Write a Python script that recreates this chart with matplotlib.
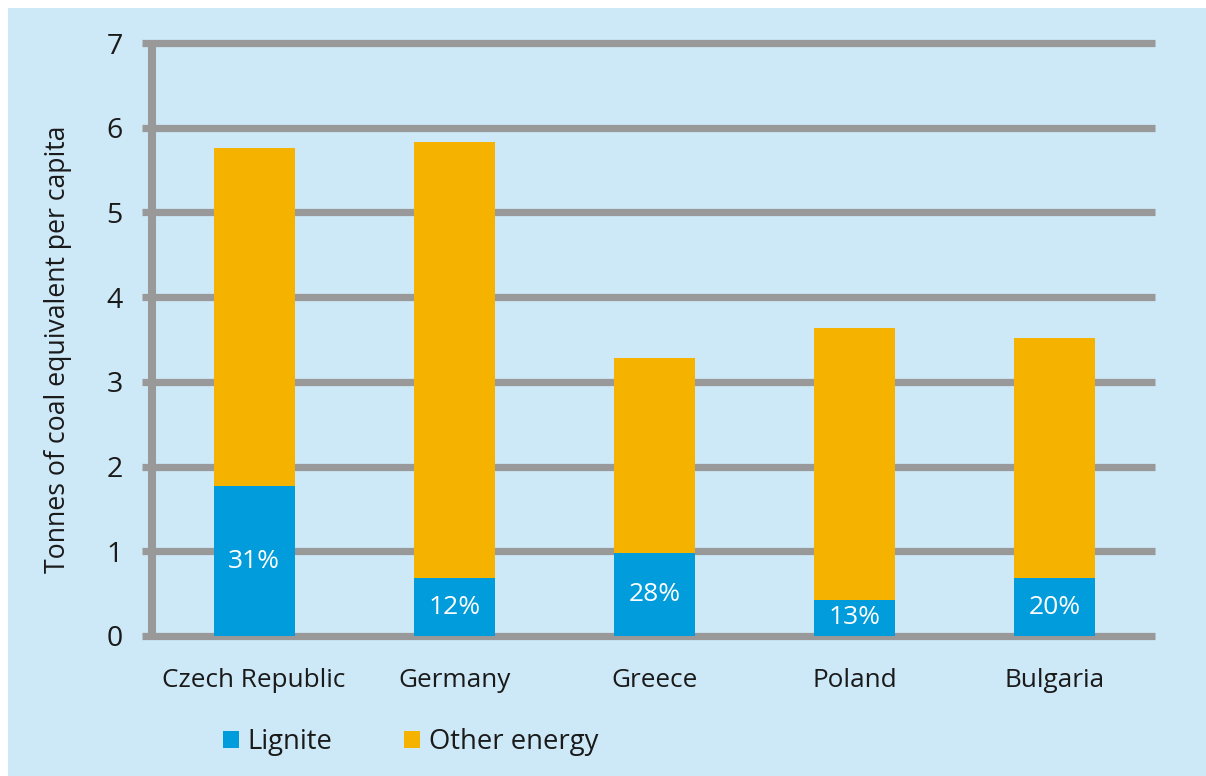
import matplotlib
matplotlib.use("Agg")
import matplotlib.pyplot as plt
from matplotlib.patches import Rectangle
import matplotlib.transforms as mtransforms

countries = ["Czech Republic", "Germany", "Greece", "Poland", "Bulgaria"]
lignite = [1.77, 0.68, 0.98, 0.43, 0.68]
other_energy = [3.99, 5.15, 2.30, 3.21, 2.84]
lignite_share = ["31%", "12%", "28%", "13%", "20%"]
yticks = [0, 1, 2, 3, 4, 5, 6, 7]

BG = "#cde8f6"
GRID = "#999999"
BLUE = "#009cdc"
ORANGE = "#f5b300"
TXT = "#1a1a1a"

plt.rcParams['font.family'] = ['Open Sans', 'DejaVu Sans']

W, H = 1206, 776
fig = plt.figure(figsize=(W / 100, H / 100), dpi=100)
fig.patch.set_facecolor("white")
fig.patches.append(Rectangle((8 / W, 0), 1 - 8 / W, 1 - 8 / H, transform=fig.transFigure,
                             facecolor=BG, edgecolor="none", zorder=-10))

ax_left, ax_right = 142, 1155
ax_bottom, ax_top = 636, 43
ax = fig.add_axes([ax_left / W, 1 - ax_bottom / H, (ax_right - ax_left) / W, (ax_bottom - ax_top) / H])
ax.set_facecolor("none")
ax.set_xlim(-0.56, 4.5)
ax.set_ylim(0, 7)
for s in ax.spines.values():
    s.set_visible(False)

# gridlines
for yv in yticks:
    ax.axhline(yv, color=GRID, lw=5.2, zorder=0, clip_on=False, solid_capstyle="butt")
# vertical axis line
trans = mtransforms.blended_transform_factory(ax.transAxes, ax.transData)
ax.plot([10 / (ax_right - ax_left)] * 2, [0, 7], transform=trans, color=GRID, lw=5.8,
        zorder=0, clip_on=False, solid_capstyle="butt")

x = list(range(len(countries)))
ax.bar(x, lignite, width=0.405, color=BLUE, zorder=2, label="Lignite")
ax.bar(x, other_energy, width=0.405, bottom=lignite, color=ORANGE, zorder=2, label="Other energy")

for xi, lv, lab in zip(x, lignite, lignite_share):
    ax.text(xi, lv / 2, lab, color="white", ha="center", va="center", fontsize=19, zorder=3)

ax.set_yticks(yticks)
ax.set_yticklabels([str(v) for v in yticks], fontsize=20.5, color=TXT)
ax.set_xticks(x)
ax.set_xticklabels(countries, fontsize=18.8, color=TXT)
ax.tick_params(axis="y", length=0, pad=14)
ax.tick_params(axis="x", length=0, pad=23)

fig.text(58 / W, 1 - 349 / H, "Tonnes of coal equivalent per capita", rotation=90,
         ha="center", va="center", fontsize=19.2, color=TXT)

leg = fig.legend(loc="center left", bbox_to_anchor=(198 / W, 1 - 742 / H), ncol=2,
                 frameon=False, fontsize=19.8, handlelength=0.6, handleheight=0.6,
                 handletextpad=0.3, columnspacing=2.6, labelcolor=TXT)

fig.savefig("out.png", dpi=100, facecolor=fig.get_facecolor())
